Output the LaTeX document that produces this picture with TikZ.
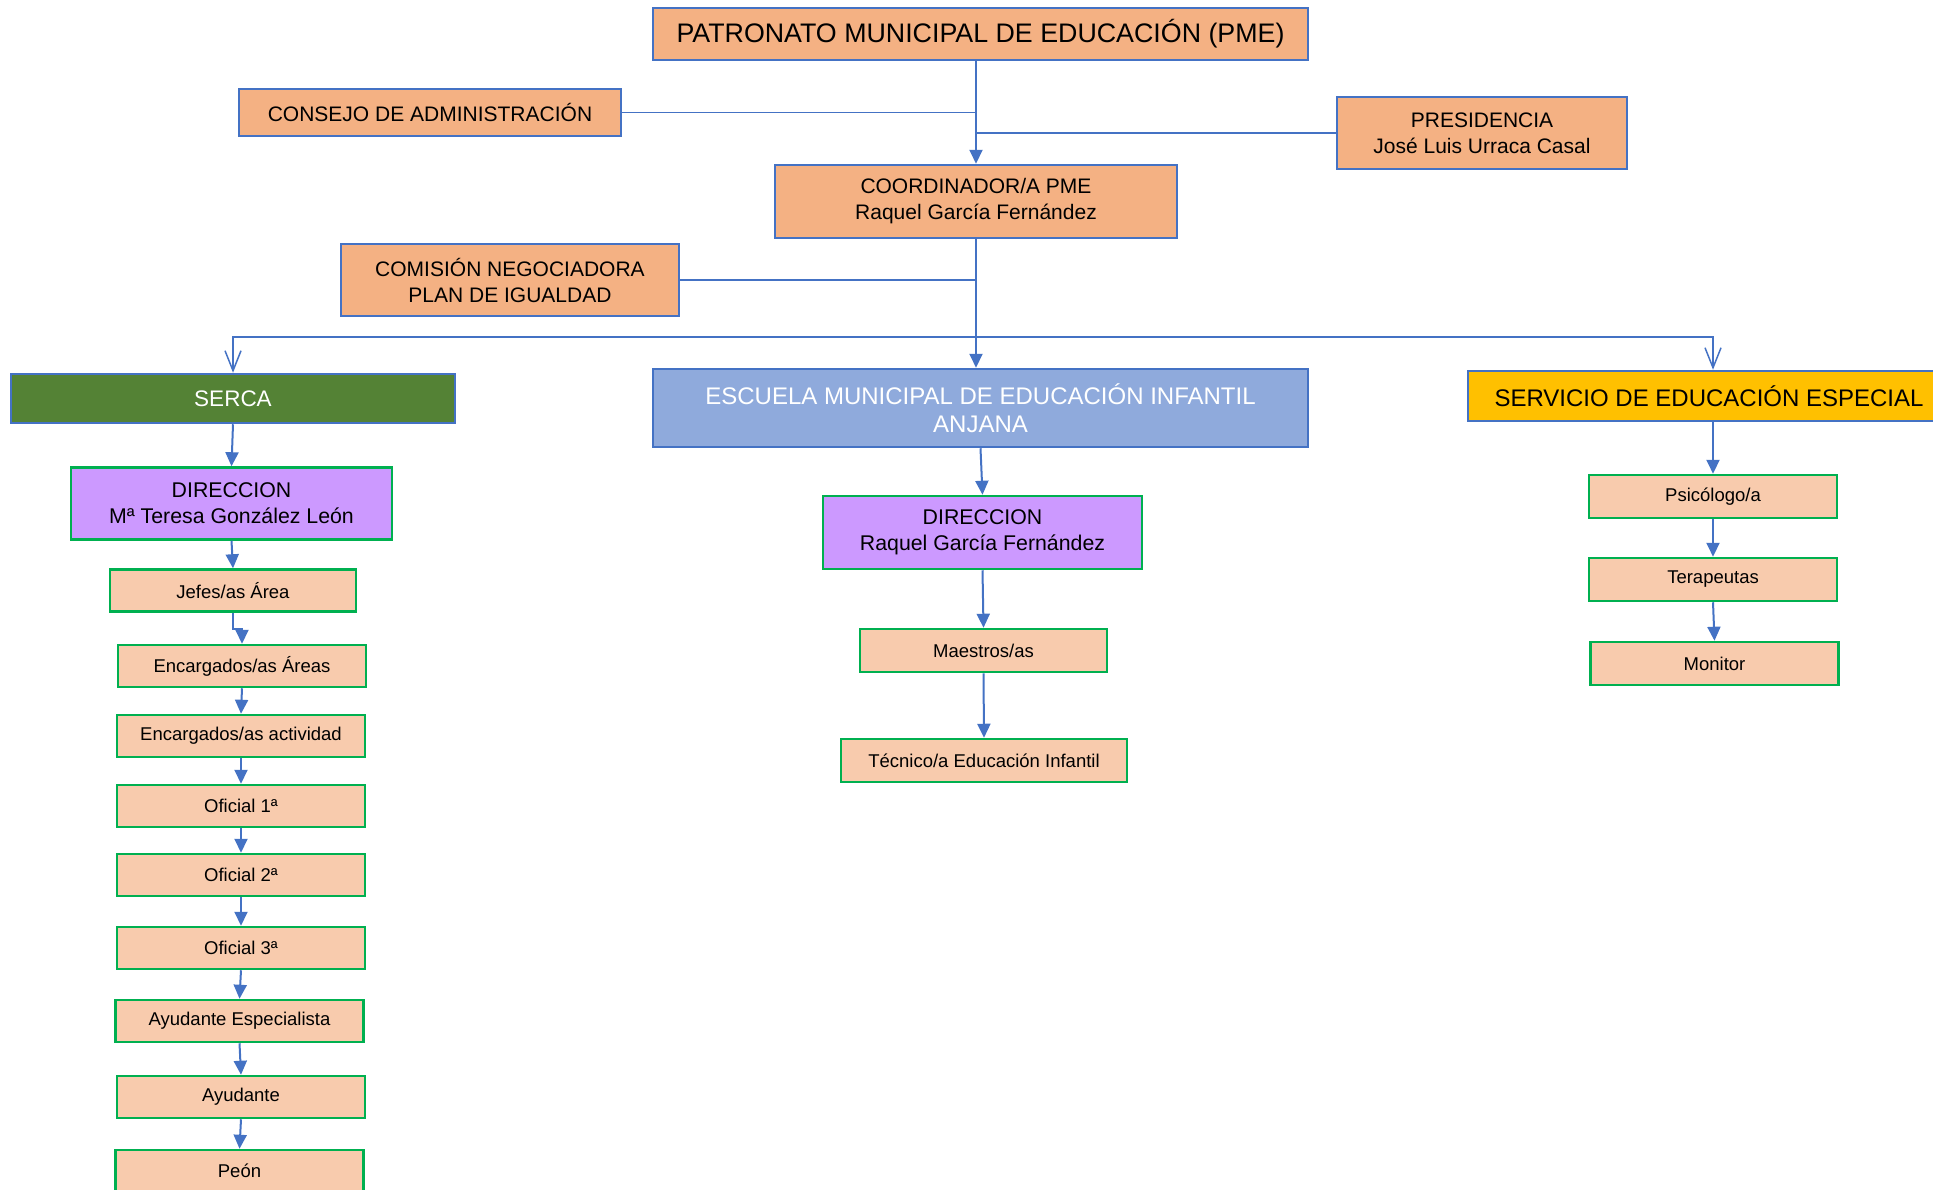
\documentclass[tikz,border=0pt]{standalone}
\usepackage{fontspec}
\setmainfont{Liberation Sans}
\usepackage{xcolor}
\usepackage{tikz}
\usetikzlibrary{positioning, arrows.meta}
\definecolor{pmeblue}{HTML}{4472C4}
\definecolor{pmeorange}{HTML}{F4B183}
\definecolor{lightorange}{HTML}{F8CBAD}
\definecolor{sercagreen}{HTML}{548235}
\definecolor{escuelablue}{HTML}{8FAADC}
\definecolor{servicioyellow}{HTML}{FFC000}
\definecolor{dirpurple}{HTML}{CC99FF}
\definecolor{boxgreen}{HTML}{00B050}

\tikzset{
  orgbox/.style={draw=pmeblue, line width=2.5pt, fill=pmeorange, align=center,
                 inner sep=0pt, font=\fontsize{21}{26}\selectfont},
  unitbox/.style={draw=pmeblue, line width=2.5pt, align=center, inner sep=0pt,
                  font=\fontsize{24}{28}\selectfont},
  dirbox/.style={draw=boxgreen, line width=2.5pt, fill=dirpurple, align=center,
                 inner sep=0pt, minimum height=72pt, font=\fontsize{21.3}{26}\selectfont},
  staffbox/.style={draw=boxgreen, line width=2.5pt, fill=lightorange, inner sep=0pt,
                   minimum width=248pt, minimum height=42pt, font=\fontsize{18.5}{22}\selectfont},
  link/.style={draw=pmeblue, line width=2pt, -{Triangle[length=14pt,width=13pt]}},
  feed/.style={draw=pmeblue, line width=1.5pt},
  branch/.style={draw=pmeblue, line width=1.5pt, -{Straight Barb[length=20pt,width=16pt]}},
}

\begin{document}
\begin{tikzpicture}[x=1pt, y=-1pt]
    \path[use as bounding box, fill=white] (0,0) rectangle (1933,1189);

    \node[orgbox, minimum width=655pt, minimum height=52pt, font=\fontsize{26.8}{30}\selectfont]
      (pme) at (980.5,34) {PATRONATO MUNICIPAL DE EDUCACIÓN (PME)};
    \node[orgbox, minimum width=382pt, minimum height=47pt] (consejo) at (430,112.5)
      {CONSEJO DE ADMINISTRACIÓN};
    \node[orgbox, minimum width=290pt, minimum height=72pt] (presidencia) at (1482,133)
      {PRESIDENCIA\\José Luis Urraca Casal};
    \node[orgbox, minimum width=402pt, minimum height=73pt] (coord) at (976,201.5)
      {COORDINADOR/A PME\\Raquel García Fernández};
    \node[orgbox, minimum width=338pt, minimum height=72pt] (comision) at (510,280)
      {COMISIÓN NEGOCIADORA\\PLAN DE IGUALDAD};

    \node[unitbox, fill=sercagreen, text=white, minimum width=444pt, minimum height=49pt,
          font=\fontsize{22.5}{26}\selectfont] (serca) at (233,398.5) {SERCA};
    \node[unitbox, fill=escuelablue, text=white, minimum width=655pt, minimum height=78pt]
      (escuela) at (980.5,408) {ESCUELA MUNICIPAL DE EDUCACIÓN INFANTIL\\ANJANA};
    \node[unitbox, fill=servicioyellow, minimum width=482pt, minimum height=50pt]
      (servicio) at (1709,396) {SERVICIO DE EDUCACIÓN ESPECIAL};

    % SERCA
    \node[dirbox, minimum width=321pt] (dirserca) at (231.5,503.5)
      {DIRECCION\\Mª Teresa González León};
    \node[staffbox, minimum width=246pt] (jefes) at (233,590.5) {Jefes/as Área};
    \node[staffbox] (encareas) at (242,666) {Encargados/as Áreas};
    \node[staffbox] (encact) at (241,736) {Encargados/as actividad};
    \node[staffbox] (of1) at (241,806) {Oficial 1ª};
    \node[staffbox] (of2) at (241,875) {Oficial 2ª};
    \node[staffbox] (of3) at (241,948) {Oficial 3ª};
    \node[staffbox] (ayesp) at (239.5,1021) {Ayudante Especialista};
    \node[staffbox] (ayu) at (241,1097) {Ayudante};
    \node[staffbox] (peon) at (239.5,1171) {Peón};

    % Escuela Anjana
    \node[dirbox, minimum width=319pt, minimum height=73pt] (dirmun) at (982.5,532.5)
      {DIRECCION\\Raquel García Fernández};
    \node[staffbox, minimum width=247pt, minimum height=43pt] (maestros) at (983.5,650.5)
      {Maestros/as};
    \node[staffbox, minimum width=286pt, minimum height=43pt] (tecnico) at (984,760.5)
      {Técnico/a Educación Infantil};

    % Educacion especial
    \node[staffbox, minimum height=43pt] (psico) at (1713,496.5) {Psicólogo/a};
    \node[staffbox, minimum height=43pt] (terap) at (1713,579.5) {Terapeutas};
    \node[staffbox, minimum height=43pt] (monitor) at (1714.5,663.5) {Monitor};

    \draw[link] (pme.south -| coord.north) -- (coord.north);
    \draw[feed] (consejo.east) -- (consejo.east -| coord.north);
    \draw[feed] (presidencia.west) -- (presidencia.west -| coord.north);
    \draw[link] (coord.south) -- (coord.south |- escuela.north);
    \draw[feed] (comision.east) -- (comision.east -| coord.south);
    \coordinate (bus) at (976,337);
    \draw[branch] (bus) -| (serca.north);
    \draw[branch] (bus) -| (servicio.north -| psico.north);

    \draw[link] (serca.south) -- (dirserca.north);
    \draw[link] (dirserca.south) -- (jefes.north);
    \draw[link] (jefes.south) -- ++(0,16) -| (encareas.north);
    \draw[link] (servicio.south -| psico.north) -- (psico.north);
    \foreach \a/\b in {encareas/encact, encact/of1, of1/of2, of2/of3, of3/ayesp, ayesp/ayu, ayu/peon,
                       escuela/dirmun, dirmun/maestros, maestros/tecnico,
                       psico/terap, terap/monitor}
      \draw[link] (\a.south) -- (\b.north);
\end{tikzpicture}
\end{document}
